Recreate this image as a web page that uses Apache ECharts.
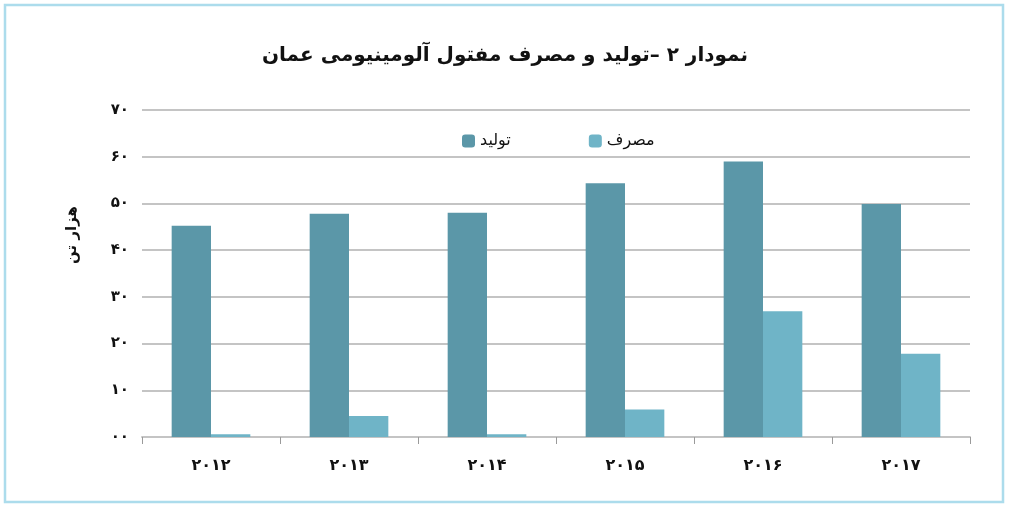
<!DOCTYPE html>
<html><head><meta charset="utf-8">
<script src="https://cdn.jsdelivr.net/npm/echarts@6/dist/echarts.min.js"></script>
<style>html,body{margin:0;padding:0;background:#fff}#c{width:1010px;height:510px}</style>
</head><body><div id="c"></div>
<script>
const categories = ['۲۰۱۲','۲۰۱۳','۲۰۱۴','۲۰۱۵','۲۰۱۶','۲۰۱۷'];
const production = [45.2, 47.8, 48.0, 54.3, 59.0, 49.9];
const consumption = [0.6, 4.5, 0.6, 5.9, 26.9, 17.8];
const yTickLabels = ['۰۰','۱۰','۲۰','۳۰','۴۰','۵۰','۶۰','۷۰'];
const titleText = 'نمودار ۲ –تولید و مصرف مفتول آلومینیومی عمان';
const seriesNames = ['تولید','مصرف'];
const yAxisName = 'هزار تن';

const FONT = 'DejaVu Sans';
const chart = echarts.init(document.getElementById('c'), null, {renderer:'canvas'});
chart.setOption({
  animation:false,
  backgroundColor:'#fff',
  textStyle:{fontFamily:FONT},
  title:{text:titleText,left:'center',top:41,textStyle:{fontFamily:FONT,fontSize:20,fontWeight:'bold',color:'#111'}},
  legend:{data:seriesNames,left:457,top:128,itemWidth:13,itemHeight:13,itemGap:78,
    textStyle:{fontFamily:FONT,fontSize:16,color:'#111'}},
  grid:{left:142,right:40,top:110,bottom:73,containLabel:false},
  graphic:[
    {type:'rect',shape:{x:5,y:5,width:998,height:497},style:{fill:'none',stroke:'#acdcec',lineWidth:2.5},silent:true},
    {type:'text',x:72,y:235,rotation:Math.PI/2,style:{text:yAxisName,fontFamily:FONT,fontSize:15,fontWeight:'bold',fill:'#111',align:'center',verticalAlign:'middle'},silent:true}
  ],
  xAxis:{type:'category',data:categories,
    axisLine:{lineStyle:{color:'#c4c4c4',width:2}},
    axisTick:{show:true,length:7,lineStyle:{color:'#9a9a9a'}},
    axisLabel:{fontFamily:FONT,fontSize:16,fontWeight:'bold',color:'#111',margin:21}},
  yAxis:{type:'value',min:0,max:70,interval:10,
    axisLine:{show:false},axisTick:{show:false},
    axisLabel:{fontFamily:FONT,fontSize:15,fontWeight:'bold',color:'#111',margin:13,
      formatter:function(v){return yTickLabels[Math.round(v/10)];}},
    splitLine:{lineStyle:{color:'#c4c4c4',width:2}}},
  series:[
    {name:seriesNames[0],type:'bar',data:production,barGap:'0%',barCategoryGap:'43%',
      itemStyle:{color:'#5b97a8'}},
    {name:seriesNames[1],type:'bar',data:consumption,
      itemStyle:{color:'#6fb4c7'}}
  ]
});
</script></body></html>
